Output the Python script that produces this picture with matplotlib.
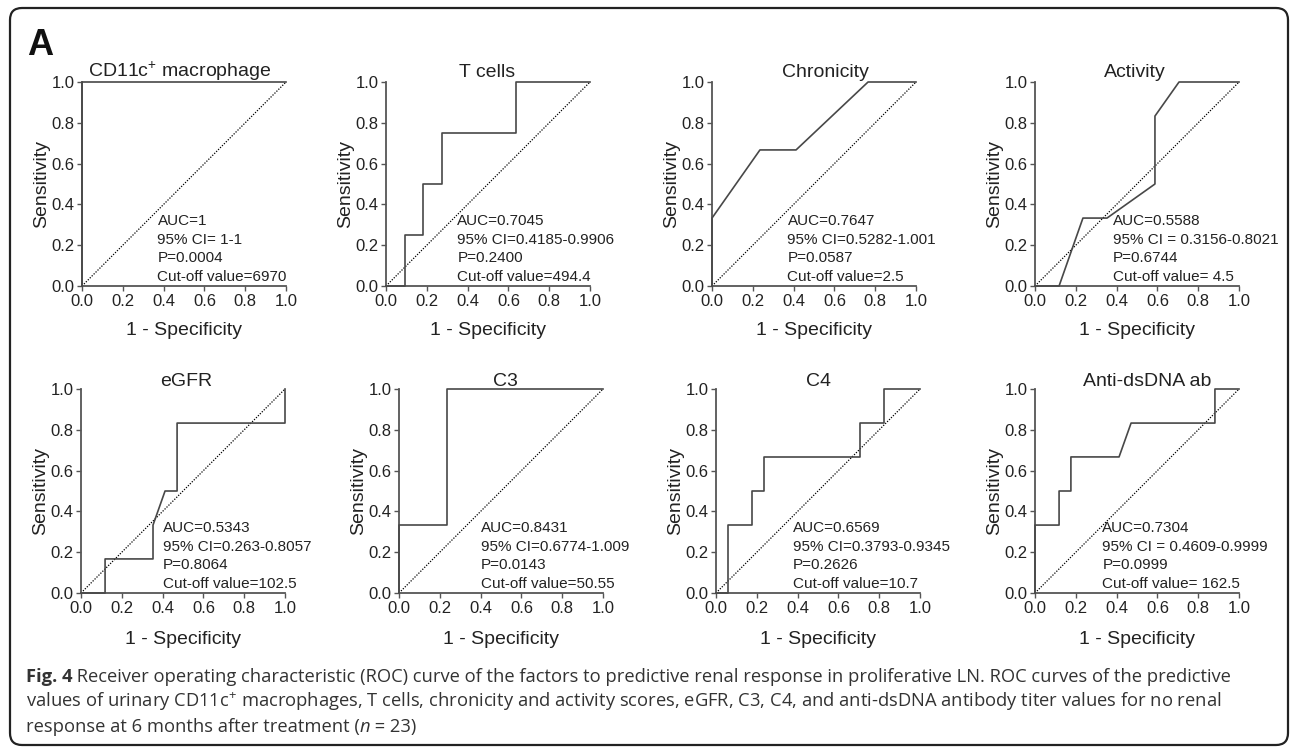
import matplotlib
matplotlib.use('Agg')
import matplotlib.pyplot as plt
from matplotlib.patches import FancyBboxPatch
from matplotlib.ticker import FormatStrFormatter

plt.rcParams['font.family'] = ['Liberation Sans', 'DejaVu Sans']
plt.rcParams['mathtext.default'] = 'regular'

# 1. DATOS
titulos = ['CD11c$^{+}$ macrophage', 'T cells', 'Chronicity', 'Activity',
           'eGFR', 'C3', 'C4', 'Anti-dsDNA ab']

cd11c_fpr = [0, 0, 1.0]
cd11c_tpr = [0, 1.0, 1.0]
tcell_fpr = [0, 0.091, 0.091, 0.182, 0.182, 0.273, 0.273, 0.636, 0.636, 1.0]
tcell_tpr = [0, 0, 0.25, 0.25, 0.5, 0.5, 0.75, 0.75, 1.0, 1.0]
chron_fpr = [0, 0, 0.235, 0.412, 0.765, 1.0]
chron_tpr = [0, 0.333, 0.667, 0.667, 1.0, 1.0]
activ_fpr = [0, 0.118, 0.235, 0.353, 0.588, 0.588, 0.706, 1.0]
activ_tpr = [0, 0, 0.333, 0.333, 0.5, 0.833, 1.0, 1.0]
egfr_fpr = [0, 0.118, 0.118, 0.353, 0.353, 0.412, 0.471, 0.471, 1.0, 1.0]
egfr_tpr = [0, 0, 0.167, 0.167, 0.333, 0.5, 0.5, 0.833, 0.833, 1.0]
c3_fpr = [0, 0, 0.235, 0.235, 1.0]
c3_tpr = [0, 0.333, 0.333, 1.0, 1.0]
c4_fpr = [0, 0.059, 0.059, 0.176, 0.176, 0.235, 0.235, 0.706, 0.706, 0.824, 0.824, 1.0]
c4_tpr = [0, 0, 0.333, 0.333, 0.5, 0.5, 0.667, 0.667, 0.833, 0.833, 1.0, 1.0]
dsdna_fpr = [0, 0, 0.118, 0.118, 0.176, 0.176, 0.412, 0.471, 0.882, 0.882, 1.0]
dsdna_tpr = [0, 0.333, 0.333, 0.5, 0.5, 0.667, 0.667, 0.833, 0.833, 1.0, 1.0]

curvas_fpr = [cd11c_fpr, tcell_fpr, chron_fpr, activ_fpr, egfr_fpr, c3_fpr, c4_fpr, dsdna_fpr]
curvas_tpr = [cd11c_tpr, tcell_tpr, chron_tpr, activ_tpr, egfr_tpr, c3_tpr, c4_tpr, dsdna_tpr]

auc = ['1', '0.7045', '0.7647', '0.5588', '0.5343', '0.8431', '0.6569', '0.7304']
ic95 = ['95% CI= 1-1', '95% CI=0.4185-0.9906', '95% CI=0.5282-1.001',
        '95% CI = 0.3156-0.8021', '95% CI=0.263-0.8057', '95% CI=0.6774-1.009',
        '95% CI=0.3793-0.9345', '95% CI = 0.4609-0.9999']
valor_p = ['0.0004', '0.2400', '0.0587', '0.6744', '0.8064', '0.0143', '0.2626', '0.0999']
corte = ['6970', '494.4', '2.5', ' 4.5', '102.5', '50.55', '10.7', ' 162.5']

ticks = [0.0, 0.2, 0.4, 0.6, 0.8, 1.0]

# 2. POSICIONES DE CADA PANEL (en pixeles)
W, H = 1290, 747
izq = [82, 386, 712, 1035, 81, 399, 716, 1035]
arriba = [82, 82, 82, 82, 389, 389, 389, 389]
lado = 204
titulo_x = [0.478, 0.494, 0.555, 0.488, 0.518, 0.52, 0.502, 0.55]
texto_x = [0.37, 0.35, 0.37, 0.38, 0.40, 0.40, 0.376, 0.33]

fig = plt.figure(figsize=(W / 100, H / 100), dpi=100)

gris = '#555555'
for i in range(8):
    ax = fig.add_axes([izq[i] / W, 1 - (arriba[i] + lado) / H, lado / W, lado / H])
    ax.plot([0, 1], [0, 1], color='black', lw=0.9, linestyle=(0, (1, 1.2)), clip_on=False)
    ax.plot(curvas_fpr[i], curvas_tpr[i], color='#484848', lw=1.2, clip_on=False, zorder=3)
    ax.set_xlim(0, 1)
    ax.set_ylim(0, 1)
    ax.set_xticks(ticks)
    ax.set_yticks(ticks)
    ax.xaxis.set_major_formatter(FormatStrFormatter('%.1f'))
    ax.yaxis.set_major_formatter(FormatStrFormatter('%.1f'))
    for s in ['top', 'right']:
        ax.spines[s].set_visible(False)
    for s in ['left', 'bottom']:
        ax.spines[s].set_color(gris)
        ax.spines[s].set_linewidth(1.3)
    ax.tick_params(direction='out', length=3.5, width=1, color=gris, pad=2,
                   labelsize=12, labelcolor='#222222')
    ax.set_xlabel('1 - Specificity', fontsize=14, color='#222222')
    ax.set_ylabel('Sensitivity', fontsize=14, color='#222222')
    ax.xaxis.set_label_coords(0.5, -0.175 if i < 4 else -0.185)
    ax.yaxis.set_label_coords(-0.157, 0.5)
    ty = 1.024 if i < 4 else 1.015
    ax.text(titulo_x[i], ty, titulos[i], transform=ax.transAxes, ha='center',
            va='baseline', fontsize=14, color='#222222')
    stats = 'AUC=' + auc[i] + '\n' + ic95[i] + '\nP=' + valor_p[i] + '\nCut-off value=' + corte[i]
    ax.text(texto_x[i], 0.012, stats, transform=ax.transAxes, ha='left', va='bottom',
            fontsize=11, linespacing=1.4, color='#222222')

# 3. MARCO, LETRA Y PIE DE FIGURA
fondo = fig.add_axes([0, 0, 1, 1], zorder=-1)
fondo.set_xlim(0, W)
fondo.set_ylim(H, 0)
fondo.axis('off')
marco = FancyBboxPatch((10, 8), 1278, 737, boxstyle='round,pad=0,rounding_size=12',
                       fill=False, edgecolor='#222222', lw=1.6)
fondo.add_patch(marco)
fondo.text(27, 55, 'A', fontsize=26, fontweight='bold', color='#111111', va='baseline')

fuente_pie = ['Open Sans', 'DejaVu Sans']
color_pie = '#333333'
tam_pie = 13.2
t1 = fondo.text(26, 682, 'Fig. 4', family=fuente_pie, fontweight='bold', fontsize=tam_pie,
                color=color_pie, va='baseline')
fondo.annotate(' Receiver operating characteristic (ROC) curve of the factors to predictive '
               'renal response in proliferative LN. ROC curves of the predictive',
               xy=(1, 0), xycoords=t1, va='bottom', family=fuente_pie, fontsize=tam_pie,
               color=color_pie)
fondo.text(26, 707, 'values of urinary CD11c$^{+}$ macrophages, T cells, chronicity and activity '
           'scores, eGFR, C3, C4, and anti-dsDNA antibody titer values for no renal',
           family=fuente_pie, fontsize=tam_pie, color=color_pie, va='baseline')
t3 = fondo.text(26, 732, 'response at 6 months after treatment (', family=fuente_pie,
                fontsize=tam_pie, color=color_pie, va='baseline')
t4 = fondo.annotate('n', xy=(1, 0), xycoords=t3, va='bottom', family=fuente_pie,
                    fontsize=tam_pie, style='italic', color=color_pie)
fondo.annotate(' = 23)', xy=(1, 0), xycoords=t4, va='bottom', family=fuente_pie,
               fontsize=tam_pie, color=color_pie)

plt.savefig('out.png', dpi=100)
